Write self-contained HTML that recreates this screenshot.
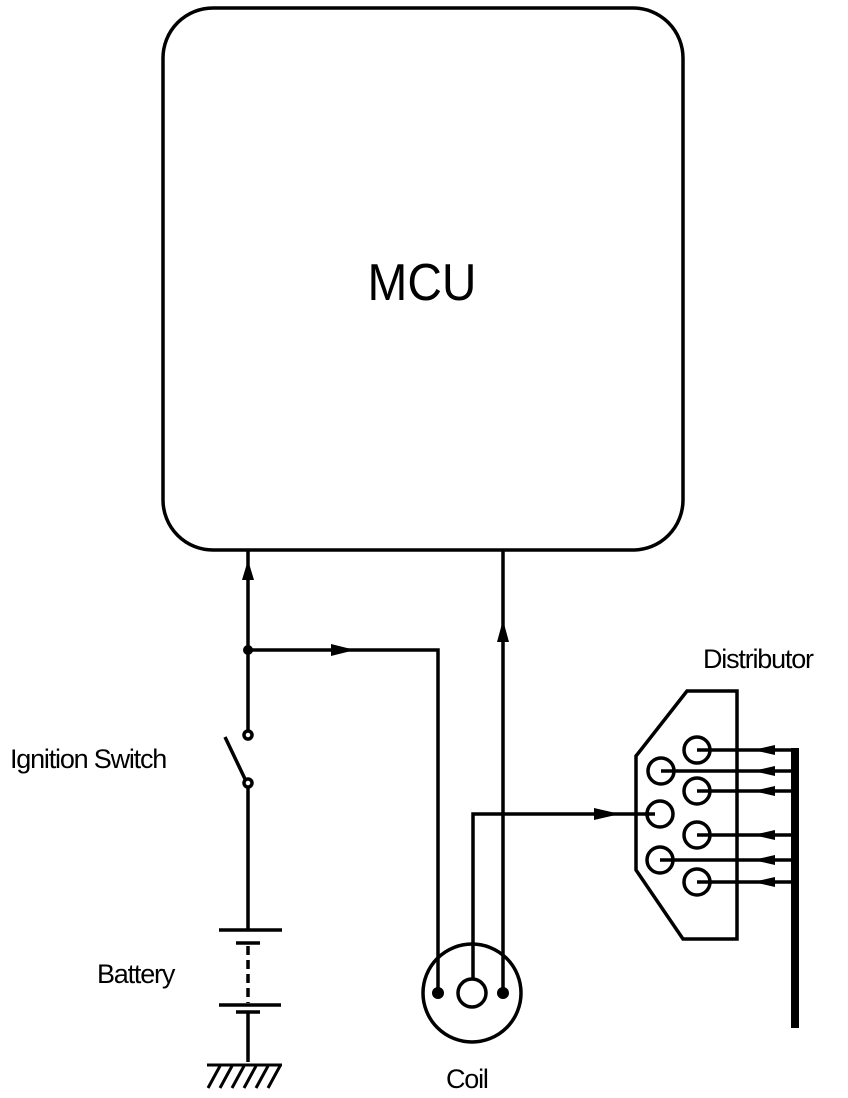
<!DOCTYPE html>
<html><head><style>body{margin:0;background:#fff}svg{display:block}</style></head><body>
<svg width="848" height="1098" viewBox="0 0 848 1098" xmlns="http://www.w3.org/2000/svg" font-family="Liberation Sans, sans-serif">
<g fill="none" stroke="#000" stroke-width="3.5">
<rect x="163" y="8" width="520" height="542" rx="50"/>
<path d="M248 550V730 M248 650H438V990 M503 550V990 M473 980V814H655"/>
<circle cx="248" cy="735" r="4"/><circle cx="248" cy="783" r="4"/>
<path d="M225 737L245 779 M248 787V930 M219 930H282 M236 943H260 M219 1005H281 M236 1012H260 M248 1012V1062"/>
<path d="M248 946V1003" stroke-dasharray="9,5"/>
<path d="M207 1065H282 M208 1088L220 1066 M220 1088L232 1066 M232 1088L244 1066 M244 1088L256 1066 M256 1088L268 1066 M268 1088L280 1066" stroke-width="3"/>
<circle cx="472" cy="993" r="49"/><circle cx="472" cy="993" r="14"/>
<path d="M687 691H737V939H683L636 870V756Z"/>
<circle cx="697" cy="750" r="13"/><circle cx="661" cy="771" r="13"/><circle cx="697" cy="791" r="13"/><circle cx="660" cy="814" r="13"/><circle cx="697" cy="835" r="13"/><circle cx="660" cy="860" r="13"/><circle cx="697" cy="882" r="13"/>
<path d="M697 750H797 M661 771H797 M697 791H797 M697 835H797 M660 860H797 M697 882H797"/>
</g>
<rect x="791" y="748" width="8" height="280" fill="#000"/>
<circle cx="248" cy="650" r="5"/><circle cx="438" cy="993" r="6"/><circle cx="503" cy="993" r="6"/>
<g fill="#000">
<path d="M248 560l-6 20h12z"/><path d="M503 620l-6 22h12z"/>
<path d="M355 650l-24-6v12z"/><path d="M620 814l-26-6v12z"/>
<path d="M753 750l22-5v10z"/><path d="M753 771l22-5v10z"/><path d="M753 791l22-5v10z"/><path d="M753 835l22-5v10z"/><path d="M753 860l22-5v10z"/><path d="M753 882l22-5v10z"/>
</g>
<text x="422" y="300" font-size="52" text-anchor="middle" transform="translate(422 0) scale(0.92 1) translate(-422 0)">MCU</text>
<text x="10" y="768" font-size="27" letter-spacing="-1.2">Ignition Switch</text>
<text x="97" y="983" font-size="27" letter-spacing="-1.2">Battery</text>
<text x="446" y="1088" font-size="27" letter-spacing="-1.2">Coil</text>
<text x="703" y="668" font-size="27" letter-spacing="-1.2">Distributor</text>
</svg>
</body></html>
